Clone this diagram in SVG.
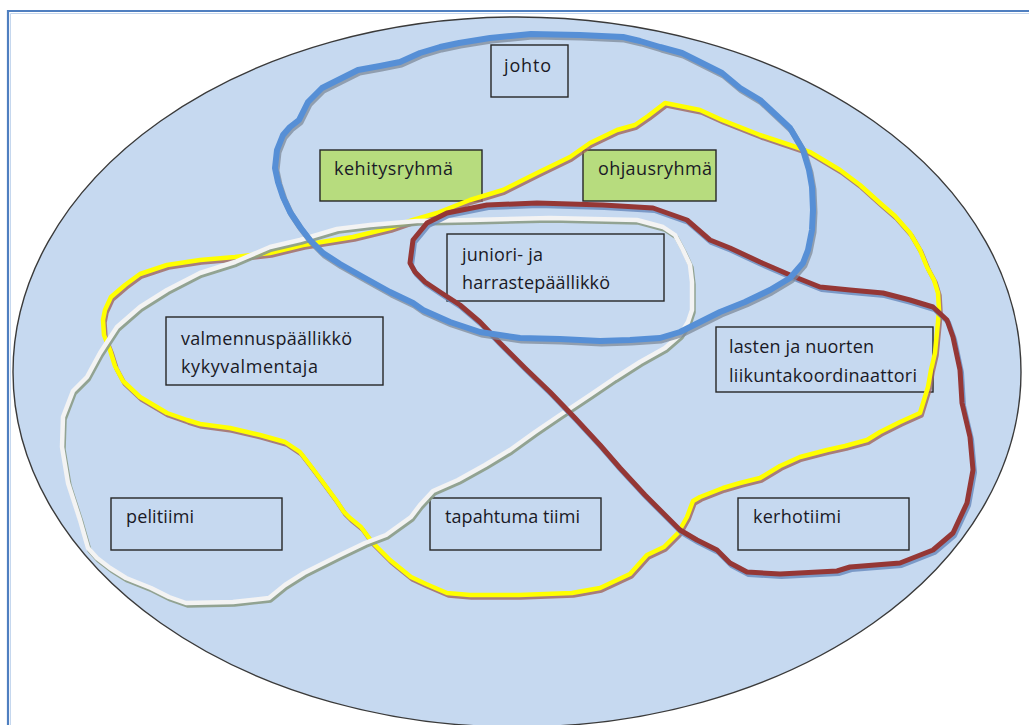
<svg xmlns="http://www.w3.org/2000/svg" xmlns:xlink="http://www.w3.org/1999/xlink" width="1029" height="725" viewBox="0 0 1029 725">
<style>
.frame{fill:none;stroke:#4f7fc0;stroke-width:2.2}
.frame2{fill:none;stroke:#c5d7ee;stroke-width:1}
.bg{fill:#c6d9f0;stroke:#3a3a3a;stroke-width:1.4}
.box{fill:none;stroke:#262626;stroke-width:1.4}
.gbox{fill:#b7dc7e;stroke:#262626;stroke-width:1.4}
.t{font-family:"Open Sans","DejaVu Sans",sans-serif;font-size:18px;fill:#1a1a26}
.loop{fill:none;stroke-linejoin:round;stroke-linecap:round}
.blue{stroke:#568fd6;stroke-width:6}
.blueS{stroke:#7d8a99;stroke-width:6;opacity:.75}
.yel{stroke:#ffff00;stroke-width:4.5}
.yelS{stroke:#a0655e;stroke-width:4.5;opacity:.8}
.wht{stroke:#f3f3f3;stroke-width:4.5}
.whtS{stroke:#8c9c87;stroke-width:4.5;opacity:.9}
.red{stroke:#953735;stroke-width:5}
.redS{stroke:#6c8dc0;stroke-width:5;opacity:.85}
</style>
<defs>
<path id="pBlue" d="M 299,120 L 308,102 L 322,88 L 340,79 L 358,70 L 380,66 L 400,62 L 420,53 L 440,47 L 459,43 L 490,38 L 531,34 L 580,35 L 623,37 L 640,41 L 660,47 L 682,53 L 700,62 L 722,73 L 740,88 L 760,100 L 774,113 L 790,128 L 803,150 L 809,170 L 812,187 L 813,210 L 812,230 L 808,250 L 803,263 L 790,278 L 770,290 L 745,302 L 720,312 L 700,322 L 680,332 L 660,338 L 630,340 L 600,341 L 560,339 L 520,338 L 480,332 L 450,322 L 423,310 L 413,303 L 390,292 L 363,277 L 340,264 L 323,253 L 310,240 L 300,227 L 290,212 L 283,197 L 278,182 L 275,168 L 277,150 L 283,135 L 290,127 Z"/>
<path id="pYel" d="M 665,103 L 700,110 L 722,120 L 760,135 L 790,145 L 810,152 L 840,170 L 860,185 L 880,203 L 895,216 L 910,233 L 920,250 L 927,267 L 934,280 L 938,293 L 939,310 L 938,322 L 935,353 L 931,370 L 928,387 L 924,400 L 920,413 L 900,422 L 880,432 L 867,440 L 845,446 L 827,450 L 800,457 L 780,466 L 760,478 L 740,483 L 723,488 L 700,497 L 693,501 L 687,517 L 678,533 L 664,547 L 647,555 L 630,574 L 600,588 L 572,593 L 519,595 L 470,595 L 447,593 L 426,584 L 411,577 L 390,560 L 372,542 L 361,527 L 350,518 L 344,512 L 336,500 L 322,481 L 310,465 L 300,452 L 285,442 L 260,435 L 230,428 L 200,424 L 187,420 L 167,413 L 140,397 L 123,381 L 115,366 L 110,350 L 104,335 L 103,320 L 105,310 L 111,297 L 125,285 L 140,274 L 167,265 L 200,260 L 235,257 L 270,253 L 303,245 L 353,237 L 390,228 L 413,220 L 437,213 L 470,200 L 503,190 L 537,173 L 570,157 L 590,143 L 617,130 L 635,125 L 648,116 Z"/>
<path id="pWht" d="M 270,247 L 300,240 L 337,229 L 370,225 L 417,221 L 470,220 L 550,218 L 637,220 L 663,227 L 675,235 L 683,250 L 690,265 L 692,282 L 692,310 L 688,322 L 680,335 L 665,348 L 640,362 L 615,378 L 590,395 L 560,415 L 535,432 L 510,450 L 485,465 L 458,480 L 433,491 L 420,505 L 411,517 L 386,535 L 365,543 L 340,555 L 304,573 L 285,585 L 269,598 L 233,602 L 186,603 L 169,597 L 151,588 L 126,578 L 110,568 L 97,558 L 88,548 L 80,520 L 68,483 L 62,447 L 63,417 L 73,391 L 87,377 L 100,353 L 117,327 L 140,307 L 167,290 L 200,273 L 235,262 Z"/>
<path id="pRed" d="M 410,263 L 413,240 L 427,223 L 447,213 L 487,205 L 537,203 L 603,205 L 653,208 L 687,220 L 710,240 L 730,248 L 760,262 L 790,275 L 820,287 L 850,290 L 883,293 L 910,300 L 933,307 L 947,320 L 953,337 L 960,370 L 962,403 L 970,437 L 973,470 L 967,503 L 953,533 L 933,550 L 900,563 L 850,567 L 837,571 L 780,574 L 747,572 L 730,563 L 717,550 L 697,540 L 680,530 L 665,515 L 645,495 L 620,468 L 600,445 L 575,418 L 550,392 L 525,368 L 500,343 L 480,322 L 460,305 L 440,292 L 425,282 L 415,272 Z"/>
</defs>
<rect x="0" y="0" width="1029" height="725" fill="#ffffff"/>
<g id="page-frame">
<path class="frame" d="M 8,725 L 8,11 L 1029,11"/>
<path class="frame2" d="M 10.5,725 L 10.5,13.5 L 1029,13.5"/>
</g>
<ellipse id="background-ellipse" class="bg" cx="517" cy="372" rx="504" ry="355"/>
<g id="node-johto"><rect class="box" x="491" y="45" width="77" height="52"/><text class="t" x="504" y="72" textLength="47">johto</text></g>
<g id="node-kehitysryhma"><rect class="gbox" x="320" y="150" width="162" height="51"/><text class="t" x="334" y="175" textLength="119">kehitysryhmä</text></g>
<g id="node-ohjausryhma"><rect class="gbox" x="583" y="150" width="133" height="51"/><text class="t" x="598" y="175" textLength="114">ohjausryhmä</text></g>
<g id="node-juniori"><rect class="box" x="447" y="234" width="217" height="67"/><text class="t" x="462" y="261" textLength="81">juniori- ja</text><text class="t" x="462" y="289" textLength="148">harrastepäällikkö</text></g>
<g id="node-valmennus"><rect class="box" x="166" y="317" width="217" height="68"/><text class="t" x="181" y="345" textLength="171">valmennuspäällikkö</text><text class="t" x="181" y="373" textLength="137">kykyvalmentaja</text></g>
<g id="node-lasten"><rect class="box" x="716" y="327" width="217" height="65"/><text class="t" x="729" y="353" textLength="145">lasten ja nuorten</text><text class="t" x="729" y="382" textLength="188">liikuntakoordinaattori</text></g>
<g id="node-pelitiimi"><rect class="box" x="111" y="498" width="171" height="52"/><text class="t" x="126" y="523" textLength="68">pelitiimi</text></g>
<g id="node-tapahtuma"><rect class="box" x="430" y="498" width="171" height="52"/><text class="t" x="445" y="523" textLength="135">tapahtuma tiimi</text></g>
<g id="node-kerhotiimi"><rect class="box" x="738" y="498" width="171" height="52"/><text class="t" x="753" y="523" textLength="88">kerhotiimi</text></g>
<g id="connectors">
<use xlink:href="#pYel" class="loop yelS" transform="translate(1.5,2.5)"/>
<use xlink:href="#pYel" class="loop yel"/>
<use xlink:href="#pWht" class="loop whtS" transform="translate(1.5,2.5)"/>
<use xlink:href="#pWht" class="loop wht"/>
<use xlink:href="#pRed" class="loop redS" transform="translate(1.5,2.5)"/>
<use xlink:href="#pRed" class="loop red"/>
<use xlink:href="#pBlue" class="loop blueS" transform="translate(1.5,2.5)"/>
<use xlink:href="#pBlue" class="loop blue"/>
</g>
</svg>
